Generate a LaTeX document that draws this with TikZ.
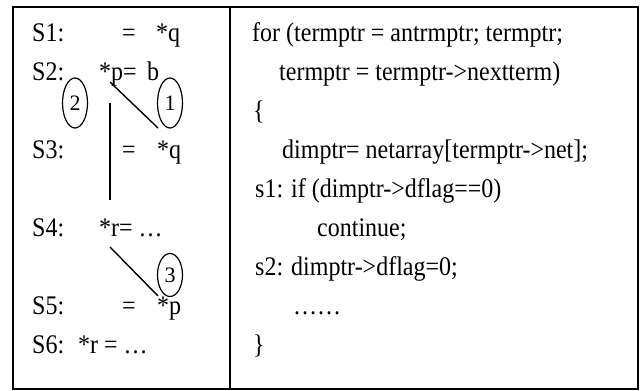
\documentclass[tikz,border=0pt]{standalone}
\usepackage{fontspec}
\setmainfont{Liberation Serif}
\usetikzlibrary{shapes.geometric, positioning}

\tikzset{
  code/.style={anchor=base west, inner sep=0pt, yscale=1.12, font=\fontsize{24}{28}\selectfont},
  tag/.style={ellipse, draw, line width=1.2pt, inner sep=0pt, minimum width=25pt, minimum height=50pt, font=\fontsize{22}{25}\selectfont},
  dep/.style={line width=1.4pt}
}

\begin{document}
\begin{tikzpicture}[x=1pt, y=-1pt]
        \useasboundingbox (0,0) rectangle (641,391);

        % Frame
        \draw[line width=1.4pt] (13,7) rectangle (638,389);
        \draw[line width=1.4pt] (230,7) -- (230,389);

        % Left column: statements
        \node[code] (s1) at (32,41) {S1:};
        \node[code] (s1a) at (122,41) {=};
        \node[code] (s1b) at (156,41) {*q};
        \node[code] (s2) at (32,80) {S2:};
        \node[code] (s2a) at (99,80) {*p=};
        \node[code] (s2b) at (147,80) {b};
        \node[code] (s3) at (32,158) {S3:};
        \node[code] (s3a) at (122,158) {=};
        \node[code] (s3b) at (157,158) {*q};
        \node[code] (s4) at (32,236) {S4:};
        \node[code] (s4a) at (99,236) {*r= \ldots};
        \node[code] (s5) at (32,314) {S5:};
        \node[code] (s5a) at (122,314) {=};
        \node[code] (s5b) at (157,314) {*p};
        \node[code] (s6) at (32,353) {S6:};
        \node[code] (s6a) at (78,353) {*r = \ldots};

        % Right column: loop
        \node[code] (r1) at (252,41) {for (termptr = antrmptr; termptr;};
        \node[code] (r2) at (279,80) {termptr = termptr->nextterm)};
        \node[code] (r3) at (253,119) {\{};
        \node[code] (r4) at (282,158) {dimptr= netarray[termptr->net];};
        \node[code] (r5) at (255,197) {s1: if (dimptr->dflag==0)};
        \node[code] (r6) at (317,236) {continue;};
        \node[code] (r7) at (255,275) {s2: dimptr->dflag=0;};
        \node[code] (r8) at (293,314) {\ldots\ldots};
        \node[code] (r9) at (253,353) {\}};

        % Circled labels
        \node[tag] (t2) at (75,103) {2};
        \node[tag] (t1) at (170,103) {1};
        \node[tag, minimum height=43pt] (t3) at (170,275) {3};

        % Dependences
        \coordinate (d1a) at (110,82);
        \coordinate (d1b) at (158,128);
        \coordinate (d2a) at (110,103);
        \coordinate (d2b) at (110,200);
        \coordinate (d3a) at (110,247);
        \coordinate (d3b) at (158,296);
        \draw[dep] (d1a) -- (d1b);
        \draw[dep] (d2a) -- (d2b);
        \draw[dep] (d3a) -- (d3b);
\end{tikzpicture}
\end{document}
